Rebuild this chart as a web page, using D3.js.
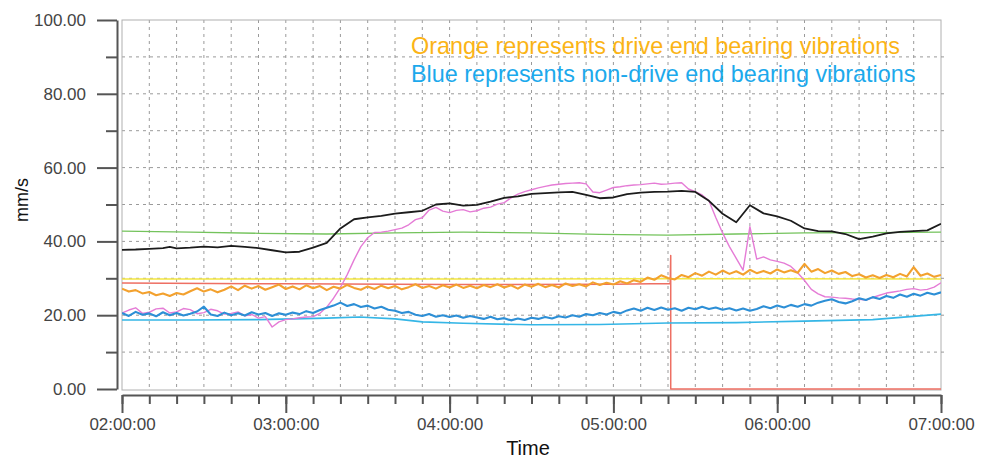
<!DOCTYPE html>
<html>
<head>
<meta charset="utf-8">
<script src="https://cdn.jsdelivr.net/npm/d3@7"></script>
<style>
  body { margin: 0; background: #fff; }
  svg { display: block; font-family: "Liberation Sans", Arial, sans-serif; }
</style>
</head>
<body>
<script>
// values, minutes after 02:00:00
var step = 2.5; // sampling step of the dense series (min)

var orangeDE = [27.2,26.4,26.8,25.9,26.3,25.4,25.9,25.2,26.0,25.6,26.5,27.3,26.4,27.0,26.2,26.9,
  27.8,26.8,28.0,27.2,27.9,26.9,27.6,28.3,27.1,27.8,27.0,28.1,27.3,27.9,26.8,27.7,27.2,28.2,27.4,26.9,
  27.8,27.1,28.0,27.3,27.9,27.0,27.6,28.4,27.4,27.9,27.2,28.1,27.5,28.3,27.4,28.0,27.3,28.2,27.6,28.4,
  27.5,28.1,27.2,28.3,27.7,28.5,27.6,28.2,27.5,28.6,27.9,28.4,27.8,28.9,28.2,28.8,28.3,29.2,28.6,29.5,
  29.0,30.2,29.6,30.8,30.1,29.7,30.9,30.3,31.4,30.7,31.8,31.0,32.1,31.2,31.9,31.0,32.3,31.4,32.0,31.3,
  32.4,31.6,32.2,31.5,33.9,31.8,32.5,31.4,32.1,31.2,31.7,30.6,31.1,30.2,30.8,30.1,30.9,30.3,31.2,30.5,
  33.0,30.7,31.3,30.4,30.9];

var blueNDE = [20.6,19.8,20.9,20.1,20.5,19.7,20.8,20.0,20.6,19.9,20.4,21.0,22.3,20.2,19.8,20.7,
  20.0,20.5,19.9,20.8,20.2,20.6,19.8,20.5,20.1,20.7,20.3,21.1,20.6,21.4,22.0,22.6,23.4,22.5,23.0,22.2,
  22.6,21.8,22.3,21.5,21.2,20.6,20.9,20.1,19.8,20.3,19.6,20.0,19.5,19.9,19.3,19.8,19.4,19.0,19.6,18.9,
  19.2,18.6,19.1,18.7,19.3,19.0,19.5,19.1,19.7,19.4,20.0,19.6,20.3,20.0,20.6,20.2,20.9,20.5,21.3,21.8,
  21.2,22.0,21.4,22.1,21.5,21.9,21.2,22.0,21.6,22.3,21.7,22.1,21.5,21.9,21.3,21.8,21.2,21.7,22.4,21.9,
  22.6,22.1,22.8,22.3,23.0,22.6,23.4,23.9,24.3,23.6,23.2,23.8,24.6,24.1,24.9,24.4,25.2,24.7,25.6,25.0,
  25.8,25.3,26.1,25.6,26.2];

var pinkVals = [20.6,21.4,22.0,20.5,20.8,21.7,21.9,20.6,20.9,21.8,21.5,20.4,20.7,21.6,21.2,20.3,
  20.5,20.9,19.8,20.2,19.2,19.6,16.8,18.2,18.8,19.0,19.3,19.5,19.6,20.5,22.2,24.6,27.5,31.0,35.0,38.6,
  41.0,42.4,42.5,42.8,43.2,43.6,44.5,45.9,46.4,48.5,49.2,48.2,47.8,48.4,48.6,48.0,48.3,49.0,49.3,50.1,
  50.5,51.8,52.8,53.5,54.0,54.5,54.9,55.3,55.5,55.7,55.8,55.9,55.6,53.4,53.2,53.9,54.6,54.8,55.1,55.3,
  55.4,55.6,55.8,55.5,55.6,55.8,55.9,54.2,53.5,52.6,51.0,46.5,42.3,38.6,35.4,32.2,44.0,35.2,35.8,35.0,
  34.6,34.1,33.2,31.5,29.4,27.0,25.8,25.0,24.9,24.7,24.6,24.4,24.3,24.1,24.8,25.4,26.0,26.3,26.6,27.0,
  27.2,26.8,27.0,27.6,28.8];

var blackMins = [0,5,10,15,17.5,20,25,30,35,40,45,50,55,60,65,70,75,80,85,90,95,100,105,110,115,120,
  125,130,135,140,145,150,155,160,165,170,175,180,185,190,195,200,205,210,215,220,225,230,235,240,245,
  250,255,260,265,270,275,280,285,290,295,300];
var blackVals = [37.7,37.8,38.0,38.2,38.5,38.1,38.3,38.6,38.4,38.8,38.5,38.2,37.6,37.0,37.2,38.3,39.6,
  43.5,46.0,46.5,46.9,47.5,47.9,48.3,50.0,50.3,49.7,49.9,50.8,51.8,52.2,52.9,53.1,53.3,53.4,52.6,51.7,
  51.9,52.8,53.2,53.4,53.5,53.7,53.4,51.0,47.5,45.2,49.8,47.6,46.8,45.6,43.5,42.8,42.7,42.0,40.6,41.3,
  42.2,42.6,42.8,43.0,44.8];

var greenMins = [0,25,50,75,100,125,150,175,200,225,250,275,300];
var greenVals = [42.8,42.5,42.2,42.0,42.3,42.5,42.3,41.9,41.7,42.0,42.3,42.4,42.5];

var lightBlueMins = [0,25,50,75,87,100,110,125,150,175,200,225,250,275,300];
var lightBlueVals = [18.7,18.7,18.8,19.2,19.5,19.0,18.2,17.8,17.4,17.5,17.9,18.0,18.4,18.8,20.3];

var yellowMins = [0,100,200,300];
var yellowVals = [29.8,29.8,29.9,29.8];

var redMins = [0,60,120,180,200.8,201,201,300];
var redVals = [28.7,28.5,28.3,28.4,28.6,36.2,0,0];

var yTicks = [0,20,40,60,80,100];
var legendLines = ["Orange represents drive end bearing vibrations",
                   "Blue represents non-drive end bearing vibrations"];

// ---- layout
var W = 986, H = 460;
var plotL = 122, plotR = 941, plotT = 20, plotB = 389;

var t0 = new Date(2000, 0, 1, 2, 0, 0);
function at(m) { return new Date(t0.getTime() + m * 60000); }

var x = d3.scaleTime().domain([at(0), at(300)]).range([plotL, plotR]);
var y = d3.scaleLinear().domain([0, 100]).range([plotB, plotT]);

var svg = d3.select("body").append("svg")
  .attr("width", W).attr("height", H);

// grid
var grid = svg.append("g").attr("stroke", "#9a9a9a").attr("stroke-dasharray", "3,4");
grid.selectAll(".vg")
  .data(d3.range(10, 300, 10))
  .enter().append("line")
  .attr("x1", function(d){ return x(at(d)); })
  .attr("x2", function(d){ return x(at(d)); })
  .attr("y1", plotT).attr("y2", plotB);
grid.selectAll(".hg")
  .data(d3.range(10, 100, 10))
  .enter().append("line")
  .attr("y1", function(d){ return y(d); })
  .attr("y2", function(d){ return y(d); })
  .attr("x1", plotL).attr("x2", plotR);

// frame
svg.append("rect")
  .attr("x", plotL).attr("y", plotT)
  .attr("width", plotR - plotL).attr("height", plotB - plotT + 1)
  .attr("fill", "none").attr("stroke", "#b0b0b0");

// small ticks on the right edge
svg.append("g").selectAll("line")
  .data(d3.range(10, 100, 10))
  .enter().append("line")
  .attr("x1", plotR).attr("x2", plotR + 3)
  .attr("y1", function(d){ return y(d); })
  .attr("y2", function(d){ return y(d); })
  .attr("stroke", "#999");

// series
svg.append("clipPath").attr("id", "plot")
  .append("rect").attr("x", plotL).attr("y", plotT - 2)
  .attr("width", plotR - plotL).attr("height", plotB - plotT + 4);

var line = d3.line()
  .x(function(d){ return x(at(d[0])); })
  .y(function(d){ return y(d[1]); });

function pairs(mins, vals) { return mins.map(function(m, i){ return [m, vals[i]]; }); }
function dense(vals) { return vals.map(function(v, i){ return [i * step, v]; }); }

var series = [
  {data: pairs(greenMins, greenVals), color: "#74c35c", w: 1.3},
  {data: pairs(yellowMins, yellowVals), color: "#f4e640", w: 1.5},
  {data: pairs(redMins, redVals), color: "#ee6f63", w: 1.5},
  {data: pairs(lightBlueMins, lightBlueVals), color: "#35b6e6", w: 1.6},
  {data: dense(pinkVals), color: "#e57cd6", w: 1.4},
  {data: dense(blueNDE), color: "#2d8fd6", w: 2.1},
  {data: dense(orangeDE), color: "#f3a12e", w: 2.1},
  {data: pairs(blackMins, blackVals), color: "#1c1c1c", w: 1.8}
];

svg.append("g").attr("clip-path", "url(#plot)")
  .selectAll("path")
  .data(series)
  .enter().append("path")
  .attr("d", function(d){ return line(d.data); })
  .attr("fill", "none")
  .attr("stroke", function(d){ return d.color; })
  .attr("stroke-width", function(d){ return d.w; })
  .attr("stroke-linejoin", "round");

// y axis
var yMinor = svg.append("g").attr("transform", "translate(117,0)");
yMinor.call(d3.axisLeft(y).tickValues(d3.range(10, 100, 20)).tickSize(11).tickSizeOuter(0).tickFormat(""));
yMinor.select(".domain").remove();
var yAxis = svg.append("g").attr("transform", "translate(117,0)");
yAxis.call(d3.axisLeft(y).tickValues(yTicks).tickSize(20).tickSizeOuter(0).tickPadding(11)
  .tickFormat(d3.format(".2f")));
yAxis.selectAll("text").attr("font-size", 17).attr("fill", "#444")
  .attr("font-family", "'Liberation Sans', Arial, sans-serif");

// x axis
var xMinor = svg.append("g").attr("transform", "translate(0,395)");
xMinor.call(d3.axisBottom(x).ticks(d3.timeMinute.every(10)).tickSize(9).tickSizeOuter(0).tickFormat(""));
xMinor.select(".domain").remove();
var xAxis = svg.append("g").attr("transform", "translate(0,395)");
xAxis.call(d3.axisBottom(x).ticks(d3.timeHour.every(1)).tickSize(18).tickSizeOuter(0).tickPadding(5)
  .tickFormat(d3.timeFormat("%H:%M:%S")));
xAxis.selectAll("text").attr("font-size", 17).attr("fill", "#444")
  .attr("font-family", "'Liberation Sans', Arial, sans-serif");

svg.selectAll("path.domain, .tick line").attr("stroke", "#555").attr("stroke-width", 2);

// titles
svg.append("text")
  .attr("transform", "translate(28,200) rotate(-90)")
  .attr("text-anchor", "middle")
  .attr("font-size", 18).attr("fill", "#111")
  .text("mm/s");

svg.append("text")
  .attr("x", 528).attr("y", 455)
  .attr("text-anchor", "middle")
  .attr("font-size", 20).attr("fill", "#111")
  .text("Time");

// legend text
svg.selectAll(".legend")
  .data(legendLines)
  .enter().append("text")
  .attr("class", "legend")
  .attr("x", 411)
  .attr("y", function(d, i){ return 54 + i * 28; })
  .attr("font-size", 23.4)
  .attr("fill", function(d, i){ return i === 0 ? "#fbb416" : "#1ca9ec"; })
  .text(function(d){ return d; });
</script>
</body>
</html>
